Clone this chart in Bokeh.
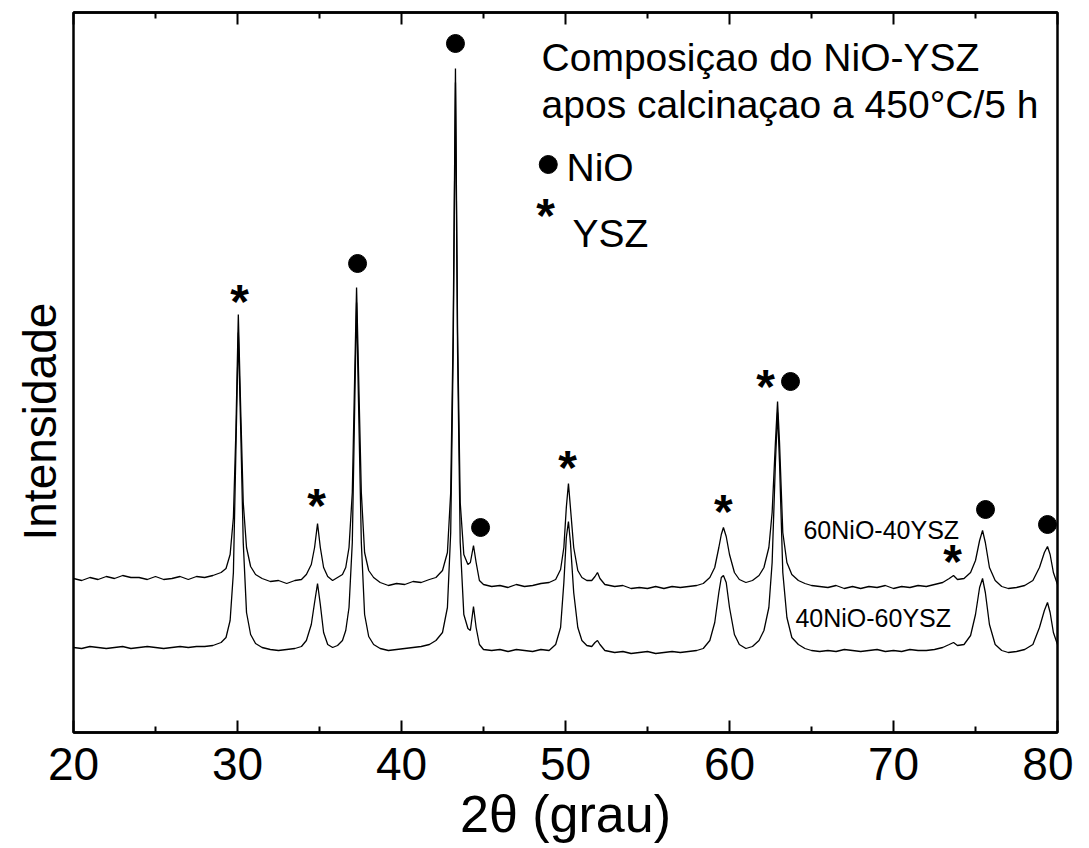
from bokeh.plotting import figure
from bokeh.models import Range1d, LinearAxis, FixedTicker, Label, ColumnDataSource, Title
from bokeh.core.properties import value
from bokeh.embed import file_html
from bokeh.resources import INLINE

FONT = "Liberation Sans"

# 60NiO-40YSZ (upper pattern), 2theta in degrees, intensity in arbitrary units
two_theta_a = [20.0, 20.5, 21.0, 21.5, 22.0, 22.5, 23.0, 23.5, 24.0, 24.5, 25.0, 25.5, 26.0, 26.5,
               27.0, 27.5, 28.0, 28.5, 29.0, 29.3, 29.55, 29.75, 29.9, 30.05, 30.2, 30.35, 30.55,
               30.8, 31.1, 31.5, 32.0, 32.5, 33.0, 33.5, 33.9, 34.2, 34.5, 34.7, 34.88, 35.05, 35.25,
               35.5, 35.8, 36.1, 36.4, 36.6, 36.8, 37.0, 37.15, 37.26, 37.38, 37.55, 37.75, 38.0,
               38.3, 38.7, 39.2, 39.7, 40.2, 40.7, 41.2, 41.7, 42.1, 42.5, 42.8, 43.0, 43.15, 43.29,
               43.42, 43.58, 43.8, 44.05, 44.2, 44.39, 44.55, 44.75, 45.0, 45.5, 46.0, 46.5, 47.0,
               47.5, 48.0, 48.5, 49.0, 49.4, 49.7, 49.9, 50.05, 50.18, 50.3, 50.5, 50.75, 51.0, 51.3,
               51.6, 51.8, 51.95, 52.1, 52.4, 53.0, 53.5, 54.0, 54.5, 55.0, 55.5, 56.0, 56.5, 57.0,
               57.5, 58.0, 58.4, 58.8, 59.1, 59.35, 59.5, 59.63, 59.8, 60.0, 60.3, 60.6, 61.0, 61.4,
               61.8, 62.1, 62.4, 62.6, 62.8, 62.93, 63.05, 63.25, 63.5, 63.8, 64.2, 64.6, 65.0, 65.5,
               66.0, 66.5, 67.0, 67.5, 68.0, 68.5, 69.0, 69.5, 70.0, 70.5, 71.0, 71.5, 72.0, 72.5,
               73.0, 73.4, 73.66, 73.9, 74.3, 74.7, 75.0, 75.25, 75.43, 75.6, 75.85, 76.2, 76.6,
               77.0, 77.5, 78.0, 78.5, 78.9, 79.2, 79.39, 79.55, 79.75, 80.0]
intensity_a = [154, 152, 155, 153, 156, 154, 157, 155, 155, 153, 156, 153, 154, 156,
               153, 156, 155, 157, 160, 164, 178, 215, 300, 418, 320, 230, 185,
               166, 158, 154, 151, 152, 149, 152, 153, 158, 168, 185, 209, 185, 165,
               156, 152, 155, 158, 165, 185, 240, 360, 445, 360, 240, 180, 162,
               155, 150, 147, 149, 148, 151, 150, 153, 155, 162, 180, 240, 400, 664,
               400, 230, 178, 168, 170, 187, 170, 152, 148, 146, 147, 145, 148,
               146, 147, 149, 150, 153, 163, 185, 225, 249, 225, 185, 162, 155, 152,
               152, 156, 160, 154, 148, 146, 147, 144, 145, 144, 146, 144, 146, 145,
               146, 147, 149, 155, 165, 185, 198, 205, 196, 178, 160, 153, 150, 152,
               157, 165, 185, 220, 290, 331, 290, 200, 170, 158, 152, 149, 147, 146,
               145, 147, 144, 146, 144, 146, 145, 147, 144, 146, 145, 147, 146, 148,
               150, 154, 157, 153, 154, 160, 172, 192, 202, 190, 165, 152, 146,
               144, 145, 147, 152, 165, 180, 186, 178, 160, 148]

# 40NiO-60YSZ (lower pattern)
two_theta_b = two_theta_a
intensity_b = [85, 84, 86, 85, 84, 85, 86, 84, 85, 86, 85, 84, 85, 86,
               85, 86, 86, 87, 90, 95, 112, 160, 280, 400, 300, 190, 120,
               98, 89, 85, 83, 82, 83, 84, 86, 92, 108, 130, 149, 128, 100,
               88, 85, 87, 92, 102, 125, 190, 330, 430, 330, 190, 118, 96,
               88, 84, 82, 83, 84, 85, 86, 88, 92, 100, 125, 200, 380, 650,
               380, 190, 118, 104, 102, 126, 105, 88, 83, 82, 83, 81, 83,
               82, 81, 83, 82, 88, 105, 150, 195, 211, 190, 140, 105, 92, 87,
               86, 90, 92, 88, 82, 80, 81, 79, 80, 81, 79, 80, 81, 80,
               81, 82, 84, 92, 110, 140, 155, 157, 150, 125, 98, 88, 84, 86,
               92, 102, 125, 170, 270, 320, 270, 160, 115, 95, 88, 84, 82, 81,
               82, 81, 83, 82, 81, 82, 83, 81, 82, 81, 83, 82, 82, 83,
               85, 88, 90, 87, 88, 97, 118, 145, 154, 140, 108, 88, 82,
               80, 81, 83, 88, 105, 122, 130, 120, 100, 88]

# phase markers
nio_x = [37.32, 43.29, 44.82, 63.72, 75.61, 79.39]
nio_y = [469, 689, 205, 351, 223, 208]
ysz_x = [30.12, 34.82, 50.12, 59.63, 62.2, 73.6]
ysz_y = [436, 232, 270, 226, 351, 176]

x_ticks = [20, 30, 40, 50, 60, 70, 80]
x_minor = [25, 35, 45, 55, 65, 75]

p = figure(width=1073, height=848, x_range=Range1d(20, 80), y_range=Range1d(0, 720),
           output_backend="svg", toolbar_location=None,
           min_border_left=73, min_border_top=12, min_border_right=16, min_border_bottom=116)
p.background_fill_color = "white"
p.border_fill_color = "white"
p.grid.visible = False
p.outline_line_color = "black"
p.outline_line_width = 2.5

p.line(two_theta_a, intensity_a, line_color="black", line_width=1.3)
p.line(two_theta_b, intensity_b, line_color="black", line_width=1.3)

p.scatter(nio_x, nio_y, marker="circle", size=18, color="black")
star_src = ColumnDataSource(dict(x=ysz_x, y=ysz_y, t=["*"] * len(ysz_x)))
p.text(x="x", y="y", text="t", source=star_src, text_font=value(FONT), text_font_size="48px",
       text_font_style="bold", text_align="center", text_baseline="alphabetic", y_offset=5,
       text_color="black")

# x axis
xa = p.xaxis[0]
xa.ticker = FixedTicker(ticks=x_ticks, minor_ticks=x_minor)
xa.major_tick_in = 12
xa.major_tick_out = 0
xa.minor_tick_in = 6
xa.minor_tick_out = 0
xa.major_tick_line_width = 2
xa.minor_tick_line_width = 2
xa.axis_line_width = 2.5
xa.major_label_text_font = FONT
xa.major_label_text_font_size = "46px"
xa.major_label_text_color = "black"
xa.major_label_standoff = 15

# top axis (ticks only)
ta = LinearAxis(ticker=FixedTicker(ticks=x_ticks, minor_ticks=x_minor),
                major_tick_in=12, major_tick_out=0, minor_tick_in=6, minor_tick_out=0,
                major_tick_line_width=2, minor_tick_line_width=2, axis_line_width=2.5,
                major_label_text_font_size="0px", major_label_standoff=0)
p.add_layout(ta, "above")

# y axis: only the frame line (outline) is drawn
p.yaxis.visible = False

# axis titles
p.add_layout(Title(text="2θ (grau)", align="center", text_font=FONT, text_font_size="52px",
                   text_font_style="normal", text_color="black", standoff=0), "below")
p.add_layout(Title(text="Intensidade", align="left", text_font=FONT, text_font_size="46px",
                   text_font_style="normal", text_color="black", standoff=16, offset=192), "left")

def lab(x, y, t, size):
    p.add_layout(Label(x=x, y=y, text=t, text_font=FONT, text_font_size=size,
                       text_baseline="alphabetic", text_align="left", text_color="black"))

lab(48.54, 675, "Composiçao do NiO-YSZ", "39px")
lab(48.54, 628, "apos calcinaçao a 450°C/5 h", "39px")
lab(50.06, 565, "NiO", "39px")
lab(50.43, 499, "YSZ", "39px")
lab(64.51, 203, "60NiO-40YSZ", "25px")
lab(64.02, 115, "40NiO-60YSZ", "25px")

p.scatter([48.95], [568], marker="circle", size=18, color="black")
leg_src = ColumnDataSource(dict(x=[48.78], y=[522], t=["*"]))
p.text(x="x", y="y", text="t", source=leg_src, text_font=value(FONT), text_font_size="48px",
       text_font_style="bold", text_align="center", text_baseline="alphabetic", y_offset=5,
       text_color="black")

open("out.html", "w").write(file_html(p, INLINE))
